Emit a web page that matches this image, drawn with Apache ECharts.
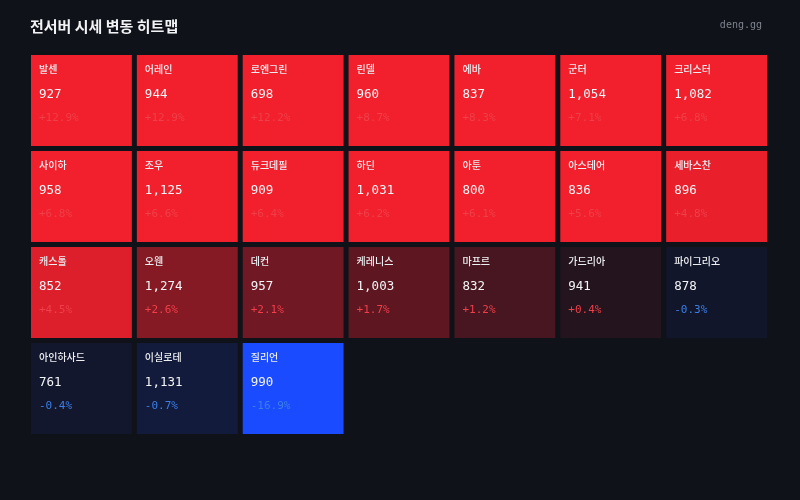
<!DOCTYPE html>
<html>
<head>
<meta charset="utf-8">
<style>
  html, body { margin: 0; padding: 0; background: #0f1218; }
  #chart { width: 800px; height: 500px; }
</style>
<script src="https://cdn.jsdelivr.net/npm/echarts@6/dist/echarts.min.js"></script>
</head>
<body>
<div id="chart"></div>
<script>
var names = ['발센', '어레인', '로엔그린', '린델', '에바', '군터', '크리스터',
    '사이하', '조우', '듀크데필', '하딘', '아툰', '아스테어', '세바스찬',
    '캐스톨', '오웬', '데컨', '케레니스', '마프르', '가드리아', '파이그리오',
    '아인하사드', '이실로테', '질리언'];
var prices = [927, 944, 698, 960, 837, 1054, 1082,
    958, 1125, 909, 1031, 800, 836, 896,
    852, 1274, 957, 1003, 832, 941, 878,
    761, 1131, 990];
var changes = [12.9, 12.9, 12.2, 8.7, 8.3, 7.1, 6.8,
    6.8, 6.6, 6.4, 6.2, 6.1, 5.6, 4.8,
    4.5, 2.6, 2.1, 1.7, 1.2, 0.4, -0.3,
    -0.4, -0.7, -16.9];
var cols = ['0', '1', '2', '3', '4', '5', '6'];
var rows = ['0', '1', '2', '3'];

var mono = '"DejaVu Sans Mono", "Liberation Mono", monospace';
var sans = '"Noto Sans CJK KR", "Noto Sans", sans-serif';

var data = [];
for (var i = 0; i < names.length; i++) {
    // [열, 행, 변동률]
    data.push([i % 7, Math.floor(i / 7), changes[i]]);
}

function fmtPct(v) {
    return (v > 0 ? '+' : '') + v.toFixed(1) + '%';
}

var myChart = echarts.init(document.getElementById('chart'));

var option = {
    backgroundColor: '#0f1218',
    title: [
        {
            text: '전서버 시세 변동 히트맵',
            left: 25,
            top: 14,
            textStyle: { color: '#f2f3f5', fontSize: 15, fontWeight: 'bold', fontFamily: sans }
        },
        {
            text: 'deng.gg',
            right: 33,
            top: 15,
            textStyle: { color: '#7d828c', fontSize: 10, fontWeight: 'normal', fontFamily: mono }
        }
    ],
    grid: { left: 28.5, top: 52.5, width: 741, height: 384 },
    xAxis: { type: 'category', data: cols, show: false },
    yAxis: { type: 'category', data: rows, inverse: true, show: false },
    visualMap: {
        show: false,
        type: 'continuous',
        dimension: 2,
        min: -5,
        max: 5,
        inRange: { color: ['#1a4bff', '#12131c', '#f2202c'] }
    },
    series: [{
        type: 'custom',
        data: data,
        renderItem: function (params, api) {
            var idx = params.dataIndex;
            var c = api.coord([api.value(0), api.value(1)]);
            var s = api.size([1, 1]);
            var gap = 5;
            var x = c[0] - s[0] / 2 + gap / 2;
            var y = c[1] - s[1] / 2 + gap / 2;
            var w = s[0] - gap;
            var h = s[1] - gap;
            var pct = changes[idx];
            return {
                type: 'group',
                children: [
                    {
                        type: 'rect',
                        shape: { x: x, y: y, width: w, height: h },
                        style: { fill: api.visual('color') }
                    },
                    {
                        type: 'text',
                        style: {
                            x: x + 8, y: y + 14, text: names[idx],
                            fill: '#eceef1', fontSize: 10, fontWeight: 500,
                            fontFamily: sans, verticalAlign: 'middle'
                        }
                    },
                    {
                        type: 'text',
                        style: {
                            x: x + 8, y: y + 40, text: prices[idx].toLocaleString('en-US'),
                            fill: '#f4f5f7', fontSize: 12.5,
                            fontFamily: mono, verticalAlign: 'middle'
                        }
                    },
                    {
                        type: 'text',
                        style: {
                            x: x + 8, y: y + 63, text: fmtPct(pct),
                            fill: pct > 0 ? '#ee3f4a' : '#3b7fe6', fontSize: 11,
                            fontFamily: mono, verticalAlign: 'middle'
                        }
                    }
                ]
            };
        }
    }]
};

myChart.setOption(option, true);
</script>
</body>
</html>
